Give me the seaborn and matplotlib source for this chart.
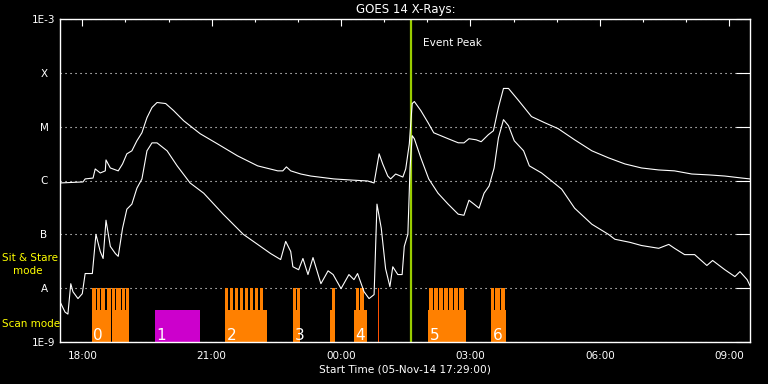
import numpy as np
import pandas as pd
import matplotlib
matplotlib.use("Agg")
import matplotlib.pyplot as plt
import matplotlib.dates as mdates
import matplotlib.ticker as mticker
import seaborn as sns

start = pd.Timestamp("2014-11-05 17:29:00")
span_hours = 16

# GOES long channel (1-8 A), clock time and flux in W/m^2
long_times = ["17:29", "18:01", "18:04", "18:15", "18:18", "18:25", "18:32", "18:33", "18:39", "18:50",
              "18:56", "19:02", "19:09", "19:16", "19:23", "19:30", "19:37", "19:44", "19:56", "20:07",
              "20:21", "20:44", "21:08", "21:36", "22:04", "22:32", "22:39", "22:44", "22:50", "23:04",
              "23:18", "23:50", "00:14", "00:37", "00:46", "00:53", "00:58", "01:05", "01:09", "01:16",
              "01:26", "01:30", "01:35", "01:39", "01:42", "01:51", "02:01", "02:09", "02:29", "02:43",
              "02:51", "02:58", "03:08", "03:15", "03:25", "03:32", "03:39", "03:46", "03:53", "04:07",
              "04:25", "04:43", "05:02", "05:25", "05:49", "06:12", "06:35", "06:58", "07:22", "07:44",
              "08:08", "08:32", "08:54", "09:18", "09:29"]
long_flux = [9.0e-7, 9.4e-7, 1.07e-6, 1.11e-6, 1.64e-6, 1.38e-6, 1.51e-6, 2.41e-6, 1.71e-6, 1.51e-6,
             2.03e-6, 3.13e-6, 3.56e-6, 5.47e-6, 7.72e-6, 1.47e-5, 2.27e-5, 2.81e-5, 2.69e-5, 1.99e-5,
             1.29e-5, 7.4e-6, 4.8e-6, 2.87e-6, 1.87e-6, 1.51e-6, 1.51e-6, 1.79e-6, 1.51e-6, 1.32e-6,
             1.21e-6, 1.07e-6, 1.02e-6, 9.8e-7, 9.0e-7, 3.13e-6, 2.03e-6, 1.21e-6, 1.07e-6, 1.32e-6,
             1.16e-6, 1.64e-6, 4.8e-6, 2.69e-5, 2.93e-5, 1.99e-5, 1.19e-5, 7.7e-6, 5.97e-6, 5.02e-6,
             5.0e-6, 5.97e-6, 5.7e-6, 5.25e-6, 7.1e-6, 8.4e-6, 2.27e-5, 5.13e-5, 5.13e-5, 3.06e-5,
             1.54e-5, 1.19e-5, 9.2e-6, 5.7e-6, 3.56e-6, 2.64e-6, 2.03e-6, 1.71e-6, 1.57e-6, 1.51e-6,
             1.32e-6, 1.27e-6, 1.21e-6, 1.11e-6, 1.07e-6]

# GOES short channel (0.5-4 A)
short_times = ["17:29", "17:36", "17:40", "17:44", "17:47", "17:54", "18:00", "18:04", "18:14", "18:19",
               "18:25", "18:29", "18:33", "18:39", "18:46", "18:50", "18:56", "19:02", "19:09", "19:16",
               "19:23", "19:30", "19:37", "19:44", "19:58", "20:12", "20:30", "20:49", "21:16", "21:44",
               "22:04", "22:22", "22:36", "22:43", "22:50", "22:53", "23:01", "23:07", "23:14", "23:21",
               "23:32", "23:42", "23:49", "00:00", "00:11", "00:18", "00:23", "00:32", "00:39", "00:46",
               "00:50", "00:56", "01:02", "01:08", "01:12", "01:19", "01:25", "01:28", "01:33", "01:36",
               "01:39", "01:42", "01:51", "02:02", "02:15", "02:29", "02:43", "02:51", "02:58", "03:05",
               "03:12", "03:19", "03:26", "03:33", "03:39", "03:46", "03:53", "04:01", "04:14", "04:22",
               "04:39", "04:53", "05:07", "05:25", "05:49", "06:12", "06:21", "06:42", "06:58", "07:22",
               "07:36", "07:44", "07:58", "08:12", "08:29", "08:37", "08:54", "09:08", "09:15", "09:25",
               "09:29"]
short_flux = [5.6e-9, 3.6e-9, 3.3e-9, 1.21e-8, 8.6e-9, 6.4e-9, 7.9e-9, 1.87e-8, 1.87e-8, 1.0e-7,
              4.8e-8, 3.56e-8, 1.83e-7, 5.97e-8, 4.4e-8, 3.9e-8, 1.29e-7, 2.93e-7, 3.64e-7, 7.2e-7,
              1.07e-6, 3.56e-6, 5.0e-6, 5.0e-6, 3.56e-6, 1.87e-6, 9.0e-7, 5.8e-7, 2.37e-7, 1.0e-7,
              6.5e-8, 4.4e-8, 3.4e-8, 7.4e-8, 4.8e-8, 2.5e-8, 2.2e-8, 3.56e-8, 1.79e-8, 3.7e-8,
              1.21e-8, 2.1e-8, 1.79e-8, 9.8e-9, 1.79e-8, 1.44e-8, 1.87e-8, 8.6e-9, 6.4e-9, 7.6e-9,
              3.64e-7, 1.29e-7, 2.3e-8, 1.07e-8, 2.5e-8, 1.79e-8, 1.79e-8, 5.97e-8, 1.0e-7, 1.71e-6,
              6.8e-6, 5.97e-6, 2.64e-6, 1.07e-6, 5.8e-7, 3.64e-7, 2.37e-7, 2.26e-7, 4.3e-7, 3.64e-7,
              3.06e-7, 5.8e-7, 7.9e-7, 1.71e-6, 6.2e-6, 1.35e-5, 1.04e-5, 5.47e-6, 3.56e-6, 1.87e-6,
              1.38e-6, 9.8e-7, 6.9e-7, 3.06e-7, 1.54e-7, 1.0e-7, 8.1e-8, 7.1e-8, 6.2e-8, 5.5e-8,
              6.5e-8, 5.5e-8, 4.2e-8, 4.2e-8, 2.64e-8, 3.27e-8, 2.2e-8, 1.64e-8, 2.03e-8, 1.44e-8,
              1.11e-8]

# IRIS observations, minutes after start time
scan_start = [44.1, 72.3, 229.6, 324.2, 375.7, 409.0, 512.0, 599.7]
scan_end = [71.0, 96.0, 287.6, 333.9, 382.6, 427.1, 564.9, 620.5]
stare_start = [44.1, 50.8, 57.7, 64.7, 72.3, 78.6, 85.6, 91.8,
               229.6, 236.5, 243.5, 250.4, 257.4, 264.3, 271.3, 278.2,
               324.2, 330.4, 378.4, 411.8, 418.0,
               513.4, 520.3, 527.3, 534.3, 541.2, 548.2, 555.2,
               599.7, 605.9, 612.9]
stare_end = [49.4, 56.3, 63.3, 71.0, 77.2, 84.2, 90.4, 96.0,
             234.2, 241.1, 248.1, 255.0, 262.0, 268.9, 275.9, 282.8,
             329.0, 333.9, 382.6, 416.6, 422.9,
             519.0, 525.9, 532.9, 539.9, 546.8, 553.8, 562.1,
             604.5, 611.5, 619.1]
other_start = [132.2]
other_end = [194.8]
marker_start = [442.0]
marker_end = [443.4]
raster_labels = ["0", "1", "2", "3", "4", "5", "6"]
raster_start = [44.1, 132.2, 229.6, 324.2, 409.0, 512.0, 599.7]

event_peak = "01:38"

scan_top = 3.9e-9
stare_top = 1e-8
floor = 1e-9

ytick_vals = [1e-9, 1e-8, 1e-7, 1e-6, 1e-5, 1e-4, 1e-3]
ytick_labels = ["1E-9", "A", "B", "C", "M", "X", "1E-3"]


def clock(c):
    t = pd.Timestamp("2014-11-05 " + c)
    if t < start:
        t += pd.Timedelta(days=1)
    return t


def tnum(m):
    return mdates.date2num(start + pd.to_timedelta(np.asarray(m), unit="min"))


sns.set_style("dark")
plt.rcParams["font.family"] = ["DejaVu Sans"]

fig = plt.figure(figsize=(7.68, 3.84), dpi=100, facecolor="black")
ax = fig.add_axes([60 / 768, 1 - 342 / 384, 690 / 768, 323 / 384])
ax.set_facecolor("black")

sns.lineplot(x=[clock(c) for c in long_times], y=long_flux, color="white", lw=0.8, ax=ax, zorder=4)
sns.lineplot(x=[clock(c) for c in short_times], y=short_flux, color="white", lw=0.8, ax=ax, zorder=4)

ax.set_yscale("log")
ax.set_ylim(1e-9, 1e-3)
ax.set_xlim(start, start + pd.Timedelta(hours=span_hours))

# IRIS bars
s0, s1 = tnum(scan_start), tnum(scan_end)
ax.bar(s0, scan_top - floor, width=s1 - s0, bottom=floor, align="edge", color="#ff8000", lw=0, zorder=2)
t0, t1 = tnum(stare_start), tnum(stare_end)
ax.bar(t0, stare_top - floor, width=t1 - t0, bottom=floor, align="edge", color="#ff8000", lw=0, zorder=2)
o0, o1 = tnum(other_start), tnum(other_end)
ax.bar(o0, scan_top - floor, width=o1 - o0, bottom=floor, align="edge", color="#cc00cc", lw=0, zorder=2)
m0, m1 = tnum(marker_start), tnum(marker_end)
ax.bar(m0, stare_top - floor, width=m1 - m0, bottom=floor, align="edge", color="#ff5000", lw=0, zorder=2)

for lbl, m in zip(raster_labels, raster_start):
    ax.annotate(lbl, xy=(tnum(m), floor), xytext=(1, 1.5), textcoords="offset points",
                ha="left", va="baseline", color="white", fontsize=11, zorder=5)

peak = clock(event_peak)
ax.axvline(peak, color="#99cc00", lw=1.6, zorder=3)
ax.annotate("Event Peak", xy=(mdates.date2num(peak), 0.926), xycoords=("data", "axes fraction"),
            xytext=(8, 0), textcoords="offset points", ha="left", va="center",
            color="white", fontsize=7.6)

# axes styling
ax.set_yticks(ytick_vals)
ax.set_yticklabels(ytick_labels)
ax.yaxis.set_minor_locator(mticker.NullLocator())
ax.xaxis.set_major_locator(mdates.HourLocator(byhour=range(0, 24, 3)))
ax.xaxis.set_minor_locator(mdates.HourLocator())
ax.xaxis.set_major_formatter(mdates.DateFormatter("%H:%M"))
ax.set_xlabel("")
ax.set_ylabel("")

ax.tick_params(axis="x", which="major", direction="in", length=5, width=0.8, top=True,
               colors="white", labelsize=7.5, pad=6.5)
ax.tick_params(axis="x", which="minor", direction="in", length=2.5, width=0.8, top=True, colors="white")
ax.tick_params(axis="y", which="major", direction="in", length=10, width=0.8, right=True,
               colors="white", labelsize=7.5, pad=11.5)
for lab in ax.get_yticklabels():
    lab.set_horizontalalignment("center")

ax.grid(False)
ax.grid(axis="y", which="major", color="white", linestyle=(0, (1, 3.5)), linewidth=0.8, zorder=1)
for sp in ax.spines.values():
    sp.set_color("white")
    sp.set_linewidth(1)
    sp.set_zorder(6)

fig.text(406 / 768, 1 - 9 / 384, "GOES 14 X-Rays:", ha="center", va="center", color="white", fontsize=8.5)
fig.text(405 / 768, 1 - 369 / 384, "Start Time (05-Nov-14 17:29:00)", ha="center", va="center",
         color="white", fontsize=7.6)
fig.text(2 / 768, 1 - 258 / 384, "Sit & Stare", ha="left", va="center", color="#ffff00", fontsize=7.5)
fig.text(13 / 768, 1 - 271 / 384, "mode", ha="left", va="center", color="#ffff00", fontsize=7.5)
fig.text(2 / 768, 1 - 324 / 384, "Scan mode", ha="left", va="center", color="#ffff00", fontsize=7.5)

fig.savefig("out.png", dpi=100, facecolor="black")
